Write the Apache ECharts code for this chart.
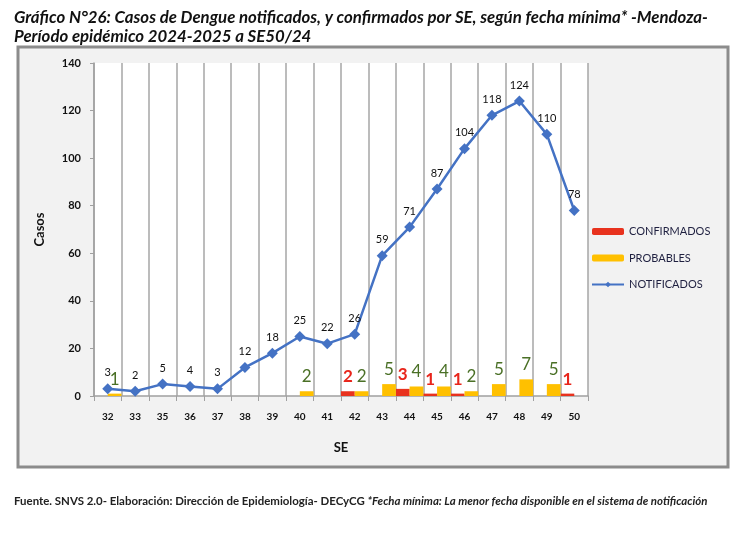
<!DOCTYPE html>
<html>
<head>
<meta charset="utf-8">
<script src="https://cdn.jsdelivr.net/npm/echarts@6/dist/echarts.min.js"></script>
<style>html,body{margin:0;padding:0;background:#fff;}#c{width:751px;height:533px;}</style>
</head>
<body>
<div id="c"></div>
<script>
var categories = ['32','33','35','36','37','38','39','40','41','42','43','44','45','46','47','48','49','50'];
var notificados = [3,2,5,4,3,12,18,25,22,26,59,71,87,104,118,124,110,78];
var confirmados = [0,0,0,0,0,0,0,0,0,2,0,3,1,1,0,0,0,1];
var probables  = [1,0,0,0,0,0,0,2,0,2,5,4,4,2,5,7,5,0];
var yTicks = [0,20,40,60,80,100,120,140];

var chart = echarts.init(document.getElementById('c'), null, {renderer:'canvas'});
var hideZero = function(p){ return p.value ? String(p.value) : ''; };
chart.setOption({
  backgroundColor:'#ffffff',
  animation:false,
  title:[{
    text:'Gráfico N°26: Casos de Dengue notificados, y confirmados por SE, según fecha mínima* -Mendoza-\nPeríodo epidémico 2024-2025 a SE50/24',
    left:9, top:3,
    textStyle:{fontFamily:'Lato', fontStyle:'italic', fontWeight:'bold', fontSize:16.8, lineHeight:19, color:'#111'}
  },{
    text:'{n|Fuente. SNVS 2.0- Elaboración: Dirección de Epidemiología- DECyCG }{i|*Fecha mínima: La menor fecha disponible en el sistema de notificación}',
    left:9, top:491,
    textStyle:{rich:{
      n:{fontFamily:'Lato', fontSize:11.45, color:'#222'},
      i:{fontFamily:'Lato', fontStyle:'italic', fontSize:11.45, color:'#222'}
    }}
  }],
  graphic:[{
    type:'rect', z:-10, silent:true,
    shape:{x:18, y:47, width:710, height:420},
    style:{fill:'#f2f2f2', stroke:'#8c8c8c', lineWidth:3}
  }],
  legend:{
    orient:'vertical', left:586, top:221, itemGap:15.5,
    itemWidth:32, itemHeight:7,
    textStyle:{fontFamily:'Lato', fontSize:11, color:'#1f2040'},
    data:['CONFIRMADOS','PROBABLES','NOTIFICADOS']
  },
  grid:{left:94, top:63, width:494, height:333, show:true, backgroundColor:'#ffffff', borderWidth:0},
  xAxis:{
    type:'category', data:categories, boundaryGap:true,
    name:'SE', nameLocation:'middle', nameGap:45,
    nameTextStyle:{fontFamily:'Lato', fontWeight:'bold', fontSize:13, color:'#111'},
    axisLine:{lineStyle:{color:'#a0a0a0', width:1.5}},
    axisTick:{show:true, length:5, lineStyle:{color:'#a0a0a0'}},
    axisLabel:{fontFamily:'Lato', fontWeight:'bold', fontSize:10, color:'#111', margin:16},
    splitLine:{show:true, lineStyle:{color:'#a6a6a6', width:1.5}}
  },
  yAxis:{
    type:'value', min:0, max:140, interval:20,
    name:'Casos', nameLocation:'middle', nameGap:48, nameRotate:90,
    nameTextStyle:{fontFamily:'Lato', fontWeight:'bold', fontSize:13, color:'#111'},
    axisLine:{show:true, lineStyle:{color:'#a0a0a0', width:1.5}},
    axisTick:{show:true, length:4, lineStyle:{color:'#a0a0a0'}},
    axisLabel:{fontFamily:'Lato', fontWeight:'bold', fontSize:11, color:'#111', margin:13,
      formatter:function(v){ return yTicks.indexOf(v) >= 0 ? String(v) : ''; }},
    splitLine:{show:false}
  },
  series:[{
    name:'CONFIRMADOS', type:'bar', data:confirmados,
    barGap:'0%', barCategoryGap:'0%',
    itemStyle:{color:'#e8321e'},
    label:{show:true, position:'top', distance:6, formatter:hideZero,
      fontFamily:'Lato', fontWeight:'bold', fontSize:17, color:'#e8251b'}
  },{
    name:'PROBABLES', type:'bar', data:probables,
    barGap:'0%', barCategoryGap:'0%',
    itemStyle:{color:'#ffc000'},
    label:{show:true, position:'top', distance:6, formatter:hideZero,
      fontFamily:'Lato', fontSize:17, color:'#4a7026'}
  },{
    name:'NOTIFICADOS', type:'line', data:notificados,
    symbol:'diamond', symbolSize:11,
    lineStyle:{color:'#4472c4', width:2.5},
    itemStyle:{color:'#4472c4'},
    label:{show:true, position:'top', distance:5, fontFamily:'Lato', fontSize:11, color:'#111'},
    z:5
  }]
});
</script>
</body>
</html>
